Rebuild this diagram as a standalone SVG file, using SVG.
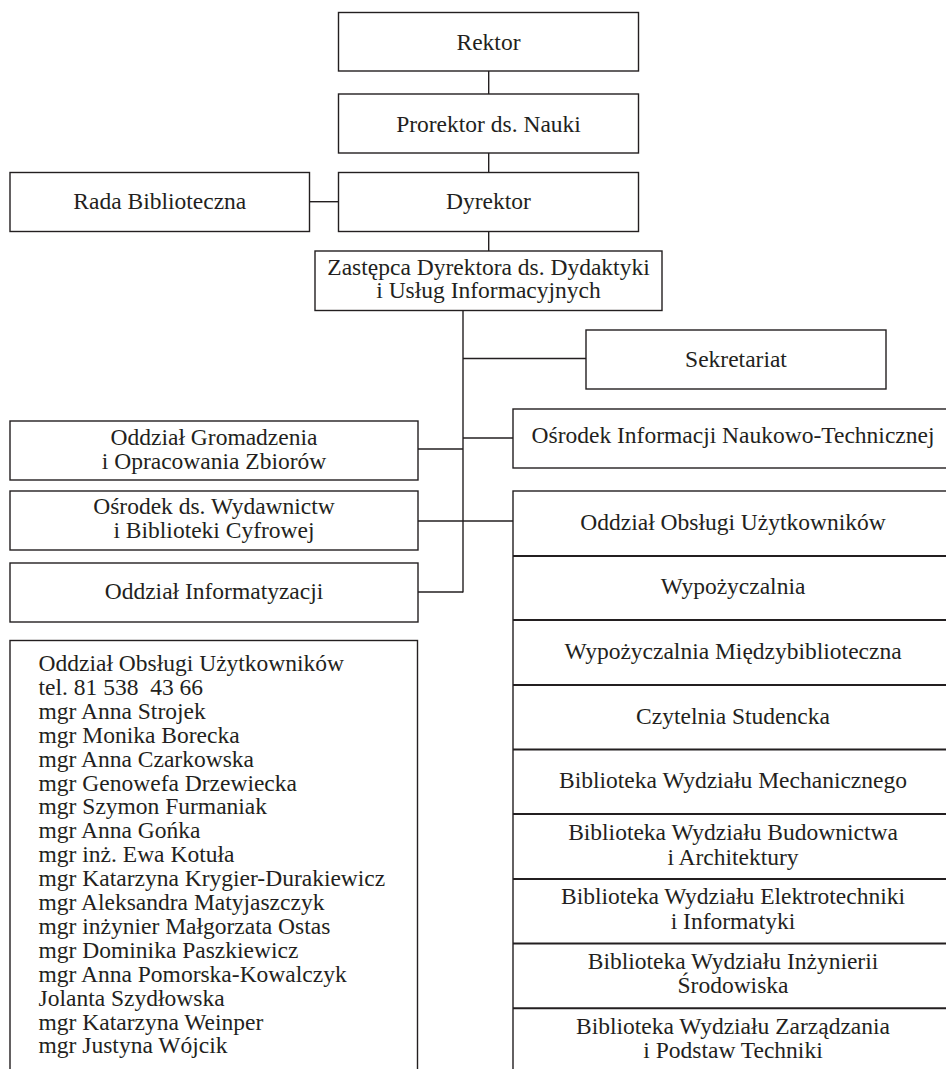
<svg xmlns="http://www.w3.org/2000/svg" width="946" height="1069" viewBox="0 0 946 1069" font-family="'Liberation Serif', 'Times New Roman', serif">
<style>
.box{fill:#fff;stroke:#231f20;stroke-width:1.4}
.div{stroke:#231f20;stroke-width:2;fill:none}
.ln{stroke:#231f20;stroke-width:1.4;fill:none}
text{font-family:'Liberation Serif','Times New Roman',serif;font-size:23.5px;fill:#231f20}
.c{text-anchor:middle}
</style>
<rect width="946" height="1069" fill="#fff"/>
<g id="connectors">
<line class="ln" x1="488.7" y1="71" x2="488.7" y2="94"/>
<line class="ln" x1="488.7" y1="153" x2="488.7" y2="172"/>
<line class="ln" x1="488.7" y1="232" x2="488.7" y2="251"/>
<line class="ln" x1="309.5" y1="201.7" x2="338.5" y2="201.7"/>
<line class="ln" x1="463" y1="310.5" x2="463" y2="592.5"/>
<line class="ln" x1="463" y1="358.5" x2="586" y2="358.5"/>
<line class="ln" x1="463" y1="438" x2="513" y2="438"/>
<line class="ln" x1="418" y1="449" x2="463" y2="449"/>
<line class="ln" x1="418" y1="521" x2="513" y2="521"/>
<line class="ln" x1="418" y1="592" x2="463" y2="592"/>
</g>
<g id="rektor"><rect class="box" x="338.5" y="12.5" width="300" height="58.5"/><text class="c" x="488.5" y="50">Rektor</text></g>
<g id="prorektor"><rect class="box" x="338.5" y="94" width="300" height="59"/><text class="c" x="488.5" y="131.5">Prorektor ds. Nauki</text></g>
<g id="dyrektor"><rect class="box" x="338.5" y="172.5" width="300" height="59"/><text class="c" x="488.5" y="209">Dyrektor</text></g>
<g id="rada"><rect class="box" x="10" y="172.5" width="299.5" height="59"/><text class="c" x="159.8" y="209">Rada Biblioteczna</text></g>
<g id="zastepca"><rect class="box" x="315" y="251" width="347" height="59.5"/><text class="c" x="488.5" y="274.5">Zastępca Dyrektora ds. Dydaktyki</text><text class="c" x="488.5" y="298">i Usług Informacyjnych</text></g>
<g id="sekretariat"><rect class="box" x="586" y="330" width="300" height="59"/><text class="c" x="736" y="367">Sekretariat</text></g>
<g id="osrodek-info"><rect class="box" x="513" y="409" width="445" height="59"/><text class="c" x="733" y="443">Ośrodek Informacji Naukowo-Technicznej</text></g>
<g id="gromadzenia"><rect class="box" x="10" y="421" width="408" height="59"/><text class="c" x="214" y="445">Oddział Gromadzenia</text><text class="c" x="214" y="468.5">i Opracowania Zbiorów</text></g>
<g id="wydawnictwa"><rect class="box" x="10" y="491" width="408" height="59"/><text class="c" x="214" y="513.5">Ośrodek ds. Wydawnictw</text><text class="c" x="214" y="537.5">i Biblioteki Cyfrowej</text></g>
<g id="informatyzacja"><rect class="box" x="10" y="563" width="408" height="59"/><text class="c" x="214" y="599">Oddział Informatyzacji</text></g>
<g id="lista"><rect class="box" x="10" y="640.5" width="407.5" height="440"/>
<text x="38.6" y="671">Oddział Obsługi Użytkowników</text>
<text x="38.6" y="694.9" xml:space="preserve" style="white-space:pre">tel. 81 538  43 66</text>
<text x="38.6" y="718.8">mgr Anna Strojek</text>
<text x="38.6" y="742.7">mgr Monika Borecka</text>
<text x="38.6" y="766.6">mgr Anna Czarkowska</text>
<text x="38.6" y="790.5">mgr Genowefa Drzewiecka</text>
<text x="38.6" y="814.4">mgr Szymon Furmaniak</text>
<text x="38.6" y="838.3">mgr Anna Gońka</text>
<text x="38.6" y="862.2">mgr inż. Ewa Kotuła</text>
<text x="38.6" y="886.1">mgr Katarzyna Krygier-Durakiewicz</text>
<text x="38.6" y="910">mgr Aleksandra Matyjaszczyk</text>
<text x="38.6" y="933.9">mgr inżynier Małgorzata Ostas</text>
<text x="38.6" y="957.8">mgr Dominika Paszkiewicz</text>
<text x="38.6" y="981.7">mgr Anna Pomorska-Kowalczyk</text>
<text x="38.6" y="1005.6">Jolanta Szydłowska</text>
<text x="38.6" y="1029.5">mgr Katarzyna Weinper</text>
<text x="38.6" y="1053.4">mgr Justyna Wójcik</text>
</g>
<g id="obslugi-stack">
<rect class="box" x="513" y="491" width="445" height="590"/>
<line class="div" x1="513" y1="556" x2="958" y2="556"/>
<line class="div" x1="513" y1="620" x2="958" y2="620"/>
<line class="div" x1="513" y1="685" x2="958" y2="685"/>
<line class="div" x1="513" y1="749.5" x2="958" y2="749.5"/>
<line class="div" x1="513" y1="814" x2="958" y2="814"/>
<line class="div" x1="513" y1="879" x2="958" y2="879"/>
<line class="div" x1="513" y1="943.5" x2="958" y2="943.5"/>
<line class="div" x1="513" y1="1008.3" x2="958" y2="1008.3"/>
</g>
<g id="obslugi"><text class="c" x="733" y="530">Oddział Obsługi Użytkowników</text></g>
<g id="wypozyczalnia"><text class="c" x="733" y="594">Wypożyczalnia</text></g>
<g id="miedzybiblioteczna"><text class="c" x="733" y="659">Wypożyczalnia Międzybiblioteczna</text></g>
<g id="czytelnia"><text class="c" x="733" y="724">Czytelnia Studencka</text></g>
<g id="mechaniczny"><text class="c" x="733" y="788">Biblioteka Wydziału Mechanicznego</text></g>
<g id="budownictwo"><text class="c" x="733" y="839.5">Biblioteka Wydziału Budownictwa</text><text class="c" x="733" y="864.5">i Architektury</text></g>
<g id="elektro"><text class="c" x="733" y="904">Biblioteka Wydziału Elektrotechniki</text><text class="c" x="733" y="928.5">i Informatyki</text></g>
<g id="inzynieria"><text class="c" x="733" y="968.5">Biblioteka Wydziału Inżynierii</text><text class="c" x="733" y="993">Środowiska</text></g>
<g id="zarzadzanie"><text class="c" x="733" y="1033.5">Biblioteka Wydziału Zarządzania</text><text class="c" x="733" y="1058">i Podstaw Techniki</text></g>
</svg>
